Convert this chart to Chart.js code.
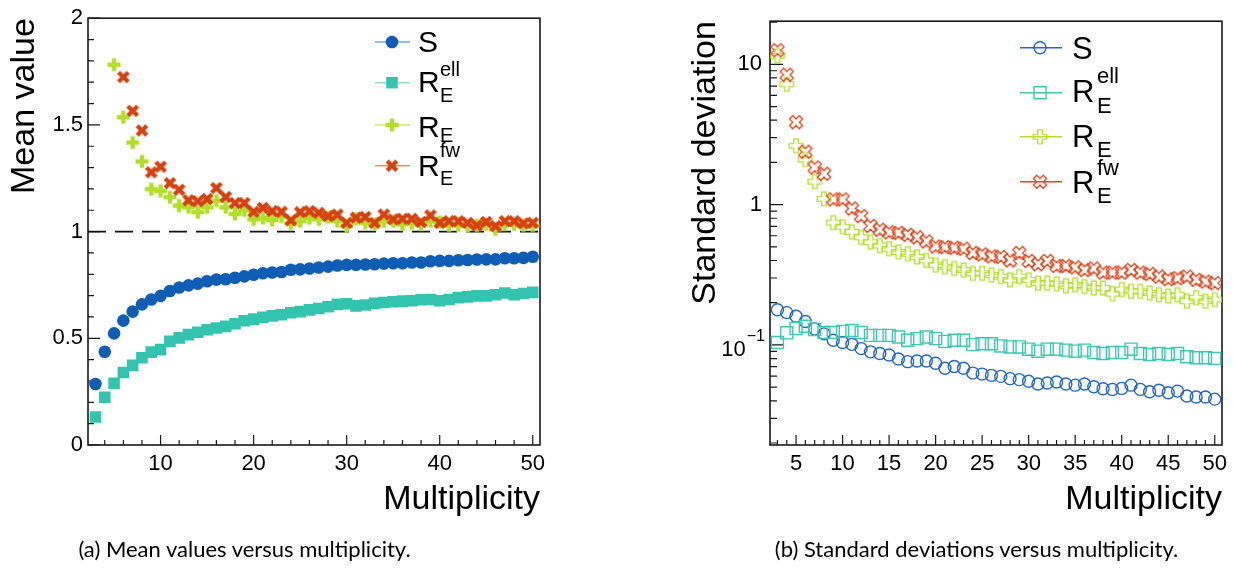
<!DOCTYPE html>
<html>
<head>
<meta charset="utf-8">
<script src="https://cdn.jsdelivr.net/npm/chart.js@4.4.0/dist/chart.umd.min.js"></script>
<style>
  body { margin: 0; background: #fff; width: 1234px; height: 569px; position: relative; overflow: hidden; }
  canvas { position: absolute; top: 0; }
  #meanChart { left: 0; }
  #sdChart { left: 617px; }
  .cap { position: absolute; top: 535px; width: 617px; text-align: center; font-family: Lato, sans-serif; font-size: 22px; line-height: 28px; color: #000; }
</style>
</head>
<body>
<canvas id="meanChart" width="617" height="569"></canvas>
<canvas id="sdChart" width="617" height="569"></canvas>
<div class="cap" style="left:-64px">(a) Mean values versus multiplicity.</div>
<div class="cap" style="left:668px">(b) Standard deviations versus multiplicity.</div>
<script>
// multiplicity values (x)
var mult = [3, 4, 5, 6, 7, 8, 9, 10, 11, 12, 13, 14, 15, 16, 17, 18, 19, 20, 21, 22, 23, 24, 25, 26,
  27, 28, 29, 30, 31, 32, 33, 34, 35, 36, 37, 38, 39, 40, 41, 42, 43, 44, 45, 46, 47, 48, 49, 50];

// legend labels: base, subscript, superscript
var labBase = ['S', 'R', 'R', 'R'];
var labSub = ['', 'E', 'E', 'E'];
var labSup = ['', 'ell', '', 'fw'];

// tick labels
var meanTicksX = [10, 20, 30, 40, 50];
var meanTicksY = [0, 0.5, 1, 1.5, 2];
var sdTicksX = [5, 10, 15, 20, 25, 30, 35, 40, 45, 50];
var sdTicksY = [0.1, 1, 10];

// (a) mean values
var meanS = [0.286, 0.437, 0.523, 0.583, 0.625, 0.659, 0.682, 0.699,
  0.722, 0.738, 0.748, 0.756, 0.767, 0.775, 0.777, 0.784, 0.790, 0.798,
  0.805, 0.808, 0.811, 0.821, 0.823, 0.827, 0.832, 0.836, 0.841, 0.844,
  0.844, 0.846, 0.847, 0.850, 0.852, 0.852, 0.855, 0.855, 0.861, 0.863,
  0.863, 0.866, 0.867, 0.869, 0.870, 0.870, 0.875, 0.875, 0.877, 0.882];
var meanRell = [0.131, 0.224, 0.289, 0.340, 0.373, 0.409, 0.435, 0.447,
  0.486, 0.502, 0.517, 0.528, 0.540, 0.548, 0.556, 0.568, 0.582, 0.590,
  0.599, 0.605, 0.610, 0.620, 0.625, 0.633, 0.640, 0.648, 0.659, 0.662,
  0.652, 0.656, 0.664, 0.668, 0.671, 0.674, 0.676, 0.681, 0.682, 0.676,
  0.682, 0.690, 0.694, 0.699, 0.699, 0.704, 0.712, 0.704, 0.710, 0.715];
var meanRE = [null, null, 1.782, 1.536, 1.417, 1.329, 1.199, 1.191,
  1.161, 1.122, 1.114, 1.091, 1.114, 1.145, 1.114, 1.083, 1.099, 1.057,
  1.064, 1.054, 1.071, 1.038, 1.049, 1.064, 1.057, 1.068, 1.049, 1.026,
  1.060, 1.041, 1.035, 1.049, 1.049, 1.034, 1.038, 1.034, 1.049, 1.045,
  1.029, 1.029, 1.026, 1.029, 1.034, 1.011, 1.034, 1.034, 1.029, 1.029];
var meanRfw = [null, null, null, 1.724, 1.566, 1.474, 1.278, 1.304,
  1.227, 1.196, 1.147, 1.142, 1.153, 1.204, 1.162, 1.134, 1.134, 1.093,
  1.111, 1.096, 1.093, 1.053, 1.091, 1.096, 1.088, 1.073, 1.080, 1.041,
  1.065, 1.069, 1.041, 1.080, 1.057, 1.060, 1.060, 1.045, 1.076, 1.041,
  1.049, 1.049, 1.041, 1.029, 1.045, 1.026, 1.049, 1.049, 1.038, 1.041];

// (b) standard deviations
var sdS = [0.178, 0.170, 0.160, 0.147, 0.130, 0.120, 0.108, 0.104,
  0.101, 0.0942, 0.0893, 0.0869, 0.0847, 0.0794, 0.0760, 0.0769, 0.0769, 0.0740,
  0.0683, 0.0702, 0.0683, 0.0630, 0.0620, 0.0607, 0.0597, 0.0575, 0.0566, 0.0551,
  0.0527, 0.0536, 0.0545, 0.0527, 0.0517, 0.0527, 0.0503, 0.0487, 0.0482, 0.0490,
  0.0517, 0.0482, 0.0464, 0.0475, 0.0456, 0.0469, 0.0433, 0.0426, 0.0426, 0.0411];
var sdRell = [0.104, 0.122, 0.131, 0.136, 0.129, 0.123, 0.123, 0.125,
  0.127, 0.123, 0.117, 0.117, 0.117, 0.114, 0.108, 0.111, 0.114, 0.111,
  0.106, 0.108, 0.108, 0.1005, 0.102, 0.102, 0.0984, 0.0968, 0.0968, 0.0933,
  0.0903, 0.0933, 0.0933, 0.0918, 0.0903, 0.0918, 0.0883, 0.0869, 0.0883, 0.0883,
  0.0933, 0.0869, 0.0855, 0.0869, 0.0855, 0.0869, 0.0824, 0.0811, 0.0811, 0.0802];
var sdRE = [11.5, 7.21, 2.63, 2.10, 1.46, 1.10, 0.745, 0.696,
  0.639, 0.585, 0.540, 0.511, 0.485, 0.460, 0.447, 0.424, 0.401, 0.370,
  0.361, 0.351, 0.342, 0.324, 0.324, 0.315, 0.307, 0.291, 0.307, 0.291,
  0.276, 0.276, 0.273, 0.264, 0.268, 0.261, 0.255, 0.255, 0.232, 0.248,
  0.241, 0.241, 0.235, 0.228, 0.223, 0.228, 0.205, 0.217, 0.205, 0.211];
var sdRfw = [12.6, 8.43, 3.87, 2.38, 1.84, 1.66, 1.09, 1.09,
  0.939, 0.829, 0.705, 0.663, 0.634, 0.629, 0.609, 0.585, 0.547, 0.503,
  0.498, 0.492, 0.485, 0.452, 0.442, 0.428, 0.424, 0.401, 0.452, 0.397,
  0.376, 0.397, 0.365, 0.365, 0.357, 0.342, 0.351, 0.328, 0.328, 0.328,
  0.342, 0.328, 0.321, 0.307, 0.294, 0.299, 0.307, 0.291, 0.283, 0.276];

var blue = '#0f5db5', teal = '#33c4b0', green = '#b4de2c', red = '#d6420f';
var FONT = "'Liberation Sans', Arimo, Arial, Helvetica, sans-serif";

function pts(arr) {
  return mult.map(function (m, i) { return { x: m, y: arr[i] }; });
}

// plus-shaped marker (rotated 45 deg for the x marker)
function plusMarker(color, s, w, rot, filled) {
  var n = 2 * Math.ceil(s + w) + 4;
  var c = document.createElement('canvas');
  c.width = n; c.height = n;
  var g = c.getContext('2d');
  g.translate(n / 2, n / 2);
  g.rotate(rot);
  g.beginPath();
  g.moveTo(-w, -s); g.lineTo(w, -s); g.lineTo(w, -w); g.lineTo(s, -w); g.lineTo(s, w); g.lineTo(w, w);
  g.lineTo(w, s); g.lineTo(-w, s); g.lineTo(-w, w); g.lineTo(-s, w); g.lineTo(-s, -w); g.lineTo(-w, -w);
  g.closePath();
  if (filled) { g.fillStyle = color; g.fill(); }
  else { g.strokeStyle = color; g.lineWidth = 1.3; g.stroke(); }
  return c;
}

// ROOT-like frame with ticks drawn inside
var rootFrame = {
  id: 'rootFrame',
  beforeDatasetsDraw: function (chart, args, o) {
    var ctx = chart.ctx, a = chart.chartArea, x = chart.scales.x, y = chart.scales.y;
    ctx.save();
    ctx.strokeStyle = '#1a1a1a';
    ctx.lineWidth = 1.2;
    ctx.beginPath();
    function xt(vals, len) {
      vals.forEach(function (v) { var p = x.getPixelForValue(v); ctx.moveTo(p, a.bottom); ctx.lineTo(p, a.bottom - len); });
    }
    function yt(vals, len) {
      vals.forEach(function (v) { var p = y.getPixelForValue(v); ctx.moveTo(a.left, p); ctx.lineTo(a.left + len, p); });
    }
    xt(o.xMajor, o.xMajLen); xt(o.xMinor, o.xMinLen);
    yt(o.yMajor, o.yMajLen); yt(o.yMinor, o.yMinLen);
    ctx.stroke();
    ctx.lineWidth = 1.6;
    ctx.strokeRect(a.left, a.top, a.right - a.left, a.bottom - a.top);
    // 10^-1 label with a real superscript
    if (o.expLabel) {
      var p = y.getPixelForValue(o.expLabel);
      ctx.fillStyle = '#000';
      ctx.textAlign = 'right';
      ctx.textBaseline = 'alphabetic';
      ctx.font = '16px ' + FONT;
      ctx.fillText('\u22121', a.left - 5, p - 4);
      var w = ctx.measureText('\u22121').width;
      ctx.font = '22px ' + FONT;
      ctx.fillText('10', a.left - 6 - w, p + 11);
    }
    ctx.restore();
  }
};

// legend with sub/superscripts
var rootLegend = {
  id: 'rootLegend',
  afterDraw: function (chart, args, o) {
    var ctx = chart.ctx;
    ctx.save();
    chart.data.datasets.forEach(function (ds, i) {
      if (i >= o.rows.length) return;
      var r = o.rows[i];
      ctx.strokeStyle = ds.legendLine;
      ctx.lineWidth = 1.5;
      ctx.beginPath(); ctx.moveTo(o.x0, r.y); ctx.lineTo(o.x1, r.y); ctx.stroke();
      ctx.fillStyle = ds.backgroundColor;
      ctx.strokeStyle = ds.borderColor;
      ctx.lineWidth = ds.borderWidth;
      Chart.helpers.drawPoint(ctx, { pointStyle: ds.pointStyle, radius: ds.pointRadius, borderWidth: ds.borderWidth, rotation: 0 }, o.mx, r.y);
      ctx.fillStyle = '#000';
      ctx.textBaseline = 'alphabetic';
      ctx.textAlign = 'left';
      ctx.font = o.size + 'px ' + FONT;
      ctx.fillText(labBase[i], o.tx, r.y + r.b);
      ctx.font = o.small + 'px ' + FONT;
      if (labSub[i]) ctx.fillText(labSub[i], o.sx, r.y + r.sub);
      if (labSup[i]) ctx.fillText(labSup[i], o.sx, r.y + r.sup);
    });
    ctx.restore();
  }
};

function range(a, b, step, skip) {
  var out = [];
  for (var v = a; v <= b + 1e-9; v += step) {
    var r = Math.round(v * 1000) / 1000;
    if (!skip || Math.abs(r / skip - Math.round(r / skip)) > 1e-6) out.push(r);
  }
  return out;
}

var logMinor = [];
[0.01, 0.1, 1, 10].forEach(function (d) {
  for (var k = 2; k <= 9; k++) logMinor.push(k * d);
});

function fixTicks(list) {
  return function (s) { s.ticks = list.map(function (v) { return { value: v }; }); };
}

function xScale(ticks) {
  return {
    type: 'linear', min: 2.2, max: 50.78,
    grid: { display: false, drawTicks: false }, border: { display: false },
    afterBuildTicks: fixTicks(ticks),
    afterFit: function (s) { s.height = 124; },
    ticks: { font: { size: 22 }, padding: 6, maxRotation: 0, autoSkip: false, callback: function (v) { return String(v); } },
    title: { display: true, text: 'Multiplicity', align: 'end', font: { size: 34 }, padding: { top: 0, bottom: 49 } }
  };
}

function draw() {
  Chart.defaults.font.family = FONT;
  Chart.defaults.color = '#000';

  // (a) mean values
  new Chart(document.getElementById('meanChart'), {
    type: 'scatter',
    data: {
      datasets: [
        { data: pts(meanS), pointStyle: 'circle', pointRadius: 6.3, backgroundColor: blue, borderColor: blue, borderWidth: 0, legendLine: 'rgba(15,93,181,0.55)', order: 4 },
        { data: pts(meanRell), pointStyle: 'rect', pointRadius: 8.2, backgroundColor: teal, borderColor: teal, borderWidth: 0, legendLine: 'rgba(51,196,176,0.55)', order: 3 },
        { data: pts(meanRE), pointStyle: plusMarker(green, 6.5, 2.2, 0, true), pointRadius: 6, backgroundColor: green, borderColor: green, borderWidth: 0, legendLine: 'rgba(180,222,44,0.7)', order: 2 },
        { data: pts(meanRfw), pointStyle: plusMarker(red, 6.8, 2.2, Math.PI / 4, true), pointRadius: 6, backgroundColor: red, borderColor: red, borderWidth: 0, legendLine: 'rgba(214,66,15,0.6)', order: 1 },
        { data: [{ x: 2.2, y: 1 }, { x: 50.78, y: 1 }], showLine: true, pointRadius: 0, borderColor: '#111', borderWidth: 1.6, borderDash: [18, 9], order: 5 }
      ]
    },
    options: {
      responsive: false, animation: false, devicePixelRatio: 1,
      layout: { padding: { top: 13, right: 77, left: 0, bottom: 0 } },
      plugins: {
        legend: { display: false }, tooltip: { enabled: false },
        rootFrame: { xMajor: meanTicksX, xMinor: range(4, 48, 2, 10), xMajLen: 10, xMinLen: 5,
          yMajor: meanTicksY, yMinor: range(0.1, 1.9, 0.1, 0.5), yMajLen: 12, yMinLen: 6 },
        rootLegend: { x0: 375, x1: 410, mx: 392, tx: 418, sx: 440, size: 30, small: 20,
          rows: [{ y: 42, b: 9.5 }, { y: 82.7, b: 9, sub: 19, sup: -6.7 }, { y: 125, b: 11.5, sub: 17 }, { y: 165.7, b: 10.3, sub: 19.3, sup: -9 }] }
      },
      scales: {
        x: xScale(meanTicksX),
        y: {
          type: 'linear', min: 0, max: 2,
          grid: { display: false, drawTicks: false }, border: { display: false },
          afterBuildTicks: fixTicks(meanTicksY),
          afterFit: function (s) { s.width = 88; },
          ticks: { font: { size: 22 }, padding: 5, callback: function (v) { return String(v); } },
          title: { display: true, text: 'Mean value', align: 'end', font: { size: 34 }, padding: { top: 4, bottom: 0 } }
        }
      }
    },
    plugins: [rootFrame, rootLegend]
  });

  // (b) standard deviations
  new Chart(document.getElementById('sdChart'), {
    type: 'scatter',
    data: {
      datasets: [
        { data: pts(sdS), pointStyle: 'circle', pointRadius: 6, backgroundColor: 'rgba(0,0,0,0)', borderColor: '#2369c2', borderWidth: 1.4, legendLine: '#2369c2', order: 4 },
        { data: pts(sdRell), pointStyle: 'rect', pointRadius: 8.5, backgroundColor: 'rgba(0,0,0,0)', borderColor: '#3cc8b5', borderWidth: 1.4, legendLine: '#3cc8b5', order: 3 },
        { data: pts(sdRE), pointStyle: plusMarker(green, 6.8, 2.3, 0, false), pointRadius: 6, backgroundColor: 'rgba(0,0,0,0)', borderColor: green, borderWidth: 1.3, legendLine: green, order: 2 },
        { data: pts(sdRfw), pointStyle: plusMarker('#dc4a20', 7, 2.3, Math.PI / 4, false), pointRadius: 6, backgroundColor: 'rgba(0,0,0,0)', borderColor: '#dc4a20', borderWidth: 1.3, legendLine: '#dc4a20', order: 1 }
      ]
    },
    options: {
      responsive: false, animation: false, devicePixelRatio: 1,
      layout: { padding: { top: 13, right: 12, left: 0, bottom: 0 } },
      plugins: {
        legend: { display: false }, tooltip: { enabled: false },
        rootFrame: { xMajor: sdTicksX, xMinor: range(3, 49, 1, 5), xMajLen: 10, xMinLen: 5,
          yMajor: sdTicksY, yMinor: logMinor.filter(function (v) { return v > 0.0194 && v < 20.3; }), yMajLen: 13, yMinLen: 7,
          expLabel: 0.1 },
        rootLegend: { x0: 403, x1: 445, mx: 423, tx: 455, sx: 480, size: 31, small: 22,
          rows: [{ y: 47.7, b: 11.6 }, { y: 92.7, b: 9, sub: 20.6, sup: -9.4 }, { y: 136.7, b: 10, sub: 20.6 }, { y: 181.7, b: 11.6, sub: 21.6, sup: -6.7 }] }
      },
      scales: {
        x: xScale(sdTicksX),
        y: {
          type: 'logarithmic', min: 0.01936, max: 20.3,
          grid: { display: false, drawTicks: false }, border: { display: false },
          afterBuildTicks: fixTicks(sdTicksY),
          afterFit: function (s) { s.width = 153; },
          ticks: { font: { size: 22 }, padding: 8, callback: function (v) { return v === 0.1 ? '' : String(v); } },
          title: { display: true, text: 'Standard deviation', align: 'end', font: { size: 34 }, padding: { top: 68, bottom: 0 } }
        }
      }
    },
    plugins: [rootFrame, rootLegend]
  });
}

Promise.all([
  document.fonts.load("22px 'Liberation Sans'"),
  document.fonts.load("22px Lato")
]).then(draw, draw);
</script>
</body>
</html>
